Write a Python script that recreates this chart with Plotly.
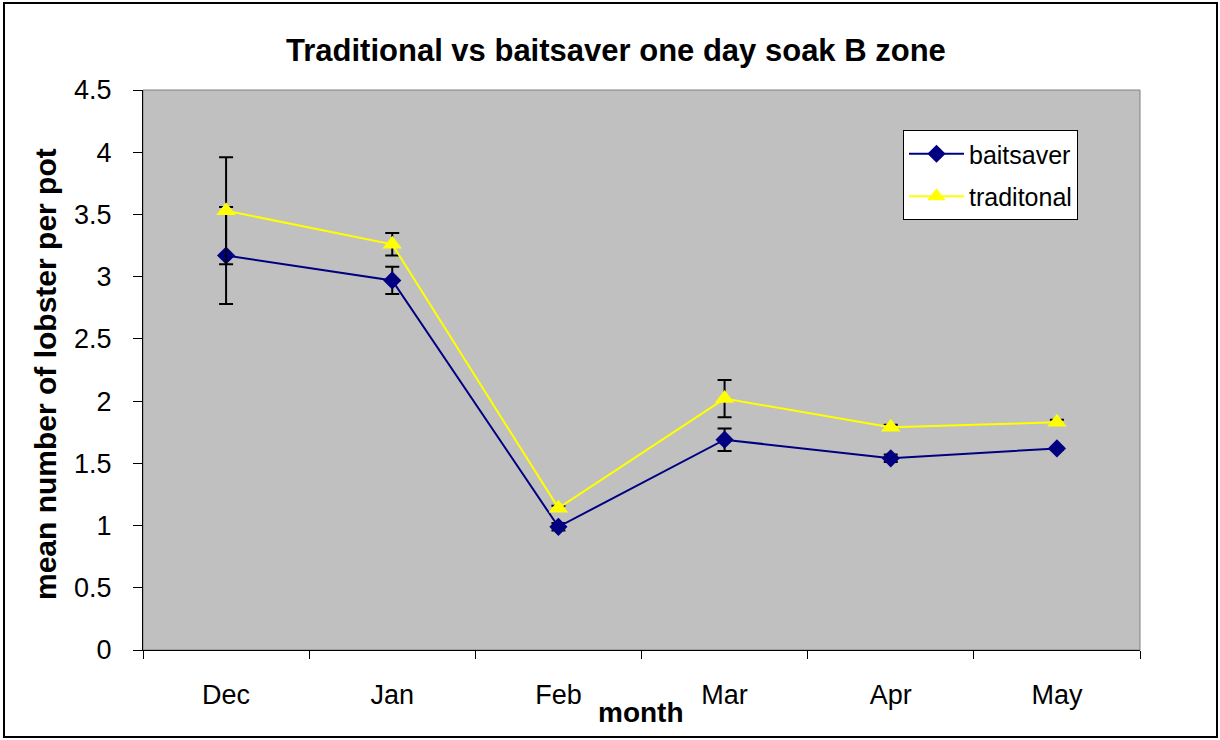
import plotly.graph_objects as go

months = ["Dec", "Jan", "Feb", "Mar", "Apr", "May"]
baitsaver = [3.17, 2.97, 0.99, 1.69, 1.54, 1.62]
baitsaver_err = [0.39, 0.11, 0.03, 0.09, 0.03, 0.01]
traditional = [3.53, 3.26, 1.14, 2.02, 1.79, 1.83]
traditional_err = [0.43, 0.09, 0.02, 0.15, 0.02, 0.02]
y_ticks = [0, 0.5, 1, 1.5, 2, 2.5, 3, 3.5, 4, 4.5]
y_ticktext = ["0", "0.5", "1", "1.5", "2", "2.5", "3", "3.5", "4", "4.5"]

W, H = 1220, 740
L, R, T, B = 143, 1140, 90, 650


def px(x):
    return (x - L) / (R - L)


def py(y):
    return (B - y) / (B - T)


FONT = "Liberation Sans, Arial, sans-serif"

fig = go.Figure()
fig.add_trace(go.Scatter(
    x=months, y=baitsaver, name="baitsaver", mode="lines+markers",
    legendgroup="a",
    line=dict(color="#000080", width=2),
    marker=dict(symbol="diamond", size=14, color="#000080"),
    error_y=dict(type="data", array=baitsaver_err, visible=True,
                 color="black", thickness=2, width=7),
))
fig.add_trace(go.Scatter(
    x=months, y=traditional, name="traditonal", mode="lines+markers",
    legendgroup="b",
    line=dict(color="#FFFF00", width=2),
    marker=dict(symbol="triangle-up", size=17, color="#FFFF00"),
    error_y=dict(type="data", array=traditional_err, visible=True,
                 color="black", thickness=2, width=7),
))

fig.update_layout(
    width=W, height=H, autosize=False,
    margin=dict(l=L, r=W - R, t=T, b=H - B, pad=0),
    paper_bgcolor="white",
    plot_bgcolor="#C0C0C0",
    font=dict(family=FONT, color="black", size=27),
    showlegend=True,
    legend=dict(
        x=px(903), y=py(130), xanchor="left", yanchor="top",
        bgcolor="white", bordercolor="black", borderwidth=1,
        font=dict(size=25, family=FONT),
        itemwidth=55, traceorder="grouped", tracegroupgap=7,
    ),
    xaxis=dict(
        type="category", range=[-0.5, 5.5],
        showgrid=False, zeroline=False,
        showline=True, linecolor="black", linewidth=1,
        ticks="outside", tickson="boundaries", ticklen=8, tickcolor="black",
        tickfont=dict(size=27, family=FONT),
        ticklabelstandoff=21,
    ),
    yaxis=dict(
        range=[0, 4.5], tickvals=y_ticks, ticktext=y_ticktext,
        showgrid=False, zeroline=False,
        showline=True, linecolor="black", linewidth=1,
        ticks="outside", ticklen=9, tickcolor="black",
        tickfont=dict(size=27, family=FONT),
        ticklabelstandoff=16,
    ),
    shapes=[
        dict(type="rect", xref="paper", yref="paper",
             x0=0, x1=1, y0=0, y1=1,
             line=dict(color="#808080", width=1), layer="below"),
        dict(type="rect", xref="paper", yref="paper",
             x0=px(4), x1=px(1217), y0=py(3), y1=py(737),
             line=dict(color="black", width=2)),
    ],
    annotations=[
        dict(text="<b>Traditional vs baitsaver one day soak B zone</b>",
             xref="paper", yref="paper", x=px(616), y=py(50),
             xanchor="center", yanchor="middle", showarrow=False,
             font=dict(size=31, family=FONT)),
        dict(text="<b>month</b>",
             xref="paper", yref="paper", x=px(641), y=py(712),
             xanchor="center", yanchor="middle", showarrow=False,
             font=dict(size=28, family=FONT)),
        dict(text="<b>mean number of lobster per pot</b>",
             xref="paper", yref="paper", x=px(45), y=py(374),
             xanchor="center", yanchor="middle", showarrow=False,
             textangle=-90,
             font=dict(size=30, family=FONT)),
    ],
)

fig.write_html("out.html", config={"displayModeBar": False},
               post_script="document.body.style.margin='0';")
